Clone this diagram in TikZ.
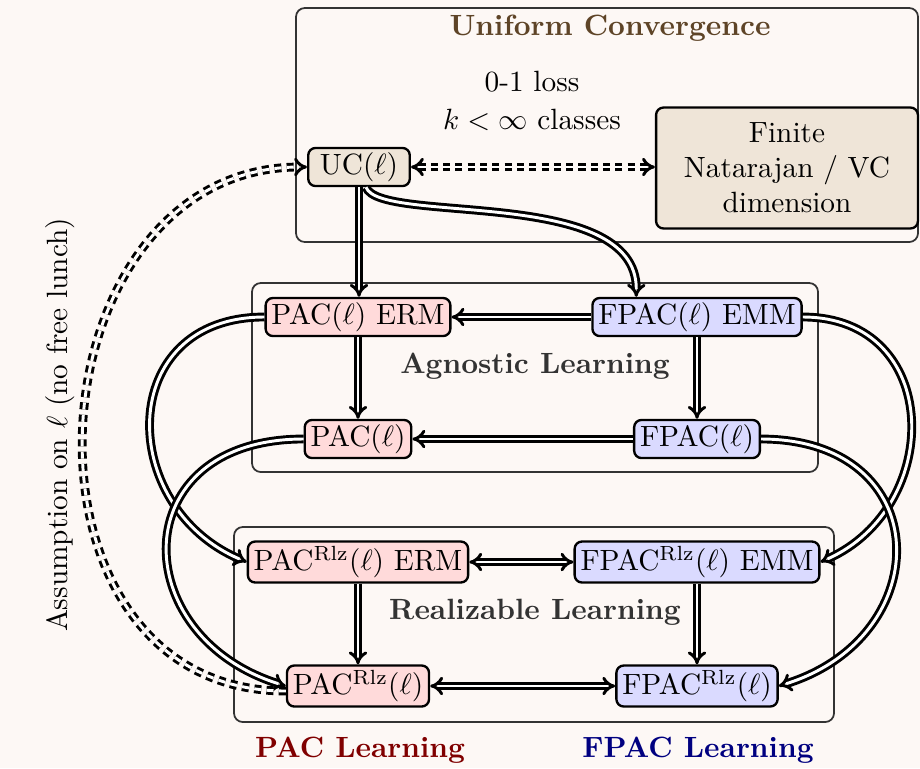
\documentclass[tikz,border=0pt]{standalone}
\usepackage{amsmath}
\usepackage{tikz}
\usetikzlibrary{
  arrows.meta,
  calc,
  fit
}
\definecolor{paper}{HTML}{FDF8F5}
\definecolor{frame}{HTML}{333333}
\definecolor{ucfill}{HTML}{EFE5D8}
\definecolor{pacfill}{HTML}{FFDADA}
\definecolor{fpacfill}{HTML}{DADAFF}
\definecolor{ucbrown}{HTML}{5E4427}
\definecolor{pacred}{HTML}{800000}
\definecolor{fpacblue}{HTML}{000080}
\definecolor{titlegrey}{HTML}{333333}
\newcommand{\rlz}{^{\mathrm{Rlz}}}
\tikzset{
  groupbox/.style={
    draw=frame,
    line width=0.6pt,
    rounded corners=3pt,
    inner sep=0pt
  },
  grouptitle/.style={
    font=\bfseries,
    text=titlegrey
  },
  stmt/.style={
    draw=black,
    line width=0.8pt,
    rounded corners=2.5pt,
    inner xsep=2pt,
    inner ysep=1.5pt
  },
  ucstmt/.style={
    stmt,
    fill=ucfill
  },
  pacstmt/.style={
    stmt,
    fill=pacfill
  },
  fpacstmt/.style={
    stmt,
    fill=fpacfill
  },
  impl/.style={
    -{Implies},
    double,
    double distance=1pt,
    line width=1pt
  },
  implboth/.style={
    impl,
    {Implies}-{Implies}
  },
  dashimpl/.style={
    impl,
    dash pattern=on 2.4pt off 1.8pt
  }
}

\begin{document}
\begin{tikzpicture}[x=0.012cm, y=-0.012cm]
  \fill[paper] (0,0) rectangle (920,768);
  \useasboundingbox (0,0) rectangle (920,768);

  % frames of the three groups
  \node[groupbox, fit={(296,8) (918,242)}] (ucbox) {};
  \node[groupbox, fit={(252,283) (818,472)}] (agnbox) {};
  \node[groupbox, fit={(234,527) (834,722)}] (rlzbox) {};

  \node[grouptitle, text=ucbrown] (uctitle) at (610,28) {Uniform Convergence};
  \node[grouptitle] (agntitle) at (535,366) {Agnostic Learning};
  \node[grouptitle] (rlztitle) at (535,612) {Realizable Learning};

  \node[align=center] (ucnote) at (532,101) {0-1 loss\\[1pt] $k<\infty$ classes};
  \node[ucstmt, inner xsep=4pt] (uc) at (359,167) {UC($\ell$)};
  \node[ucstmt, align=center, minimum width=3.14cm, minimum height=1.45cm]
    (finite) at (787,168) {Finite\\Natarajan / VC\\dimension};

  \node[pacstmt] (pacerm) at (358,317) {PAC($\ell$) ERM};
  \node[fpacstmt] (fpacemm) at (697,317) {FPAC($\ell$) EMM};
  \node[pacstmt] (pac) at (358,439) {PAC($\ell$)};
  \node[fpacstmt] (fpac) at (697,439) {FPAC($\ell$)};

  \node[pacstmt] (pacrlzerm) at (358,562) {PAC$\rlz(\ell)$ ERM};
  \node[fpacstmt] (fpacrlzemm) at (697,562) {FPAC$\rlz(\ell)$ EMM};
  \node[pacstmt] (pacrlz) at (358,686) {PAC$\rlz(\ell)$};
  \node[fpacstmt] (fpacrlz) at (697,686) {FPAC$\rlz(\ell)$};

  \node[font=\bfseries, text=pacred] (paclabel) at (360,750) {PAC Learning};
  \node[font=\bfseries, text=fpacblue] (fpaclabel) at (698,750) {FPAC Learning};
  \node[rotate=90] (nfl) at (60,425) {Assumption on $\ell$ (no free lunch)};

  % uniform convergence
  \draw[dashimpl, {Implies}-{Implies}] (uc.east) -- (uc.east -| finite.west);
  \draw[impl] (uc.south) -- (uc.south |- pacerm.north);
  \draw[impl] ($(uc.south)+(7,0)$) .. controls (380,225) and (637,185)
    .. ($(fpacemm.north west)+(45,0)$);

  % agnostic
  \draw[impl] (fpacemm) -- (pacerm);
  \draw[impl] (fpac) -- (pac);
  \draw[impl] (pacerm) -- (pac);
  \draw[impl] (fpacemm) -- (fpac);

  % realizable
  \draw[implboth] (pacrlzerm) -- (fpacrlzemm);
  \draw[implboth] (pacrlz) -- (fpacrlz);
  \draw[impl] (pacrlzerm) -- (pacrlz);
  \draw[impl] (fpacrlzemm) -- (fpacrlz);

  % agnostic to realizable
  \draw[impl] (pacerm.west) .. controls +(-150,0) and +(-130,-55) .. (pacrlzerm.west);
  \draw[impl] (pac.west) .. controls +(-180,0) and +(-160,-50) .. (pacrlz.west);
  \draw[impl] (fpacemm.east) .. controls +(140,0) and +(124,-55) .. (fpacrlzemm.east);
  \draw[impl] (fpac.east) .. controls +(175,0) and +(160,-50) .. (fpacrlz.east);

  % no free lunch
  \draw[dashimpl] ($(pacrlz.west)+(0,5)$) .. controls +(-288,0) and +(-280,0) .. (uc.west);
\end{tikzpicture}
\end{document}
